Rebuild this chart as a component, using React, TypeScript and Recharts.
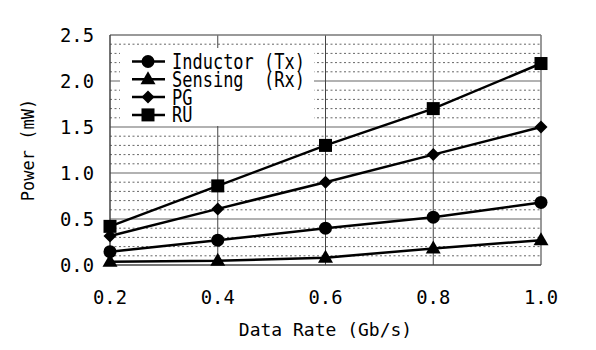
import { LineChart, Line, XAxis, YAxis, ReferenceLine, Label } from 'recharts';

const dataRate = [0.2, 0.4, 0.6, 0.8, 1.0];
const inductorTx = [0.145, 0.27, 0.4, 0.52, 0.68];
const sensingRx = [0.036, 0.045, 0.08, 0.18, 0.27];
const pg = [0.315, 0.61, 0.9, 1.2, 1.5];
const ru = [0.42, 0.86, 1.3, 1.7, 2.19];

const yTicks = [0, 0.5, 1.0, 1.5, 2.0, 2.5];
const yMinor = [0.1, 0.2, 0.3, 0.4, 0.6, 0.7, 0.8, 0.9, 1.1, 1.2, 1.3, 1.4, 1.6, 1.7, 1.8, 1.9, 2.1, 2.2, 2.3, 2.4];
const yMajorInner = [0.5, 1.0, 1.5, 2.0];
const xInner = [0.4, 0.6, 0.8];

const series = [
  { key: 'inductor', name: 'Inductor (Tx)', values: inductorTx, shape: 'circle' },
  { key: 'sensing', name: 'Sensing  (Rx)', values: sensingRx, shape: 'triangle' },
  { key: 'pg', name: 'PG', values: pg, shape: 'diamond' },
  { key: 'ru', name: 'RU', values: ru, shape: 'square' },
];

const data = dataRate.map((x, i) => {
  const row: any = { x };
  series.forEach(s => { row[s.key] = s.values[i]; });
  return row;
});

const FONT = '"DejaVu Sans Mono", monospace';

function Marker({ cx, cy, shape }: { cx: number; cy: number; shape: string }) {
  if (cx == null || cy == null) return null;
  if (shape === 'circle') return <circle cx={cx} cy={cy} r={6.5} fill="#000" />;
  if (shape === 'triangle')
    return <path d={`M${cx},${cy - 8} L${cx + 7.5},${cy + 5} L${cx - 7.5},${cy + 5} Z`} fill="#000" />;
  if (shape === 'diamond')
    return <path d={`M${cx},${cy - 6.5} L${cx + 6.5},${cy} L${cx},${cy + 6.5} L${cx - 6.5},${cy} Z`} fill="#000" />;
  return <rect x={cx - 6.5} y={cy - 6.5} width={13} height={13} fill="#000" />;
}

const XTick = ({ x, y, payload }: any) => (
  <text x={x} y={y + 31} textAnchor="middle" fontFamily={FONT} fontSize={19} fill="#000"
    textLength={34} lengthAdjust="spacingAndGlyphs">
    {payload.value.toFixed(1)}
  </text>
);

const YTick = ({ x, y, payload }: any) => (
  <text x={x - 8} y={y + 7} textAnchor="end" fontFamily={FONT} fontSize={19} fill="#000"
    textLength={34} lengthAdjust="spacingAndGlyphs">
    {payload.value.toFixed(1)}
  </text>
);

// legend sits over the grid with a white box, like the original
function LegendBox() {
  return (
    <svg width={194} height={78} style={{ position: 'absolute', left: 120, top: 48, background: '#fff' }}>
      {series.map((s, i) => {
        const y = 13.5 + i * 17.8;
        return (
          <g key={s.key}>
            <line x1={12} x2={45} y1={y} y2={y} stroke="#000" strokeWidth={2.5} />
            <Marker cx={28} cy={y} shape={s.shape} />
            <text x={52} y={0} fontFamily={FONT} fontSize={17} fill="#000" xmlSpace="preserve"
              transform={`translate(0, ${y + 7.5}) scale(1, 1.2)`} style={{ whiteSpace: 'pre' }}>
              {s.name}
            </text>
          </g>
        );
      })}
    </svg>
  );
}

export default function App() {
  return (
    <div style={{ position: 'absolute', left: 0, top: 0, width: 596, height: 350, background: '#fff' }}>
      <LineChart width={596} height={350} data={data} margin={{ top: 35, right: 55, left: 50, bottom: 55 }}>
        {yMinor.map(v => (
          <ReferenceLine key={'m' + v} y={v} stroke="#666" strokeWidth={1} strokeDasharray="2 2.5" />
        ))}
        {yMajorInner.map(v => (
          <ReferenceLine key={'M' + v} y={v} stroke="#999" strokeWidth={1.5} />
        ))}
        {xInner.map(v => (
          <ReferenceLine key={'v' + v} x={v} stroke="#444" strokeWidth={1} />
        ))}
        <ReferenceLine y={2.5} stroke="#777" strokeWidth={1.5} />
        <ReferenceLine x={1.0} stroke="#777" strokeWidth={1.5} />
        <XAxis dataKey="x" type="number" domain={[0.2, 1.0]} ticks={dataRate} tick={<XTick />}
          tickLine={false} axisLine={{ stroke: '#444', strokeWidth: 1.5 }} height={30} interval={0}>
          <Label value="Data Rate (Gb/s)" position="bottom" offset={28} fontFamily={FONT} fontSize={18} fill="#000" />
        </XAxis>
        <YAxis type="number" domain={[0, 2.5]} ticks={yTicks} tick={<YTick />} tickLine={false}
          axisLine={{ stroke: '#444', strokeWidth: 1.5 }} width={60} interval={0}>
          <Label value="Power (mW)" angle={-90} position="left" offset={22} fontFamily={FONT} fontSize={17}
            fill="#000" style={{ textAnchor: 'middle' }} />
        </YAxis>
        {series.map(s => (
          <Line key={s.key} dataKey={s.key} stroke="#000" strokeWidth={2.5} isAnimationActive={false}
            dot={(p: any) => <Marker key={s.key + p.index} cx={p.cx} cy={p.cy} shape={s.shape} />}
            activeDot={false} />
        ))}
      </LineChart>
      <LegendBox />
    </div>
  );
}
